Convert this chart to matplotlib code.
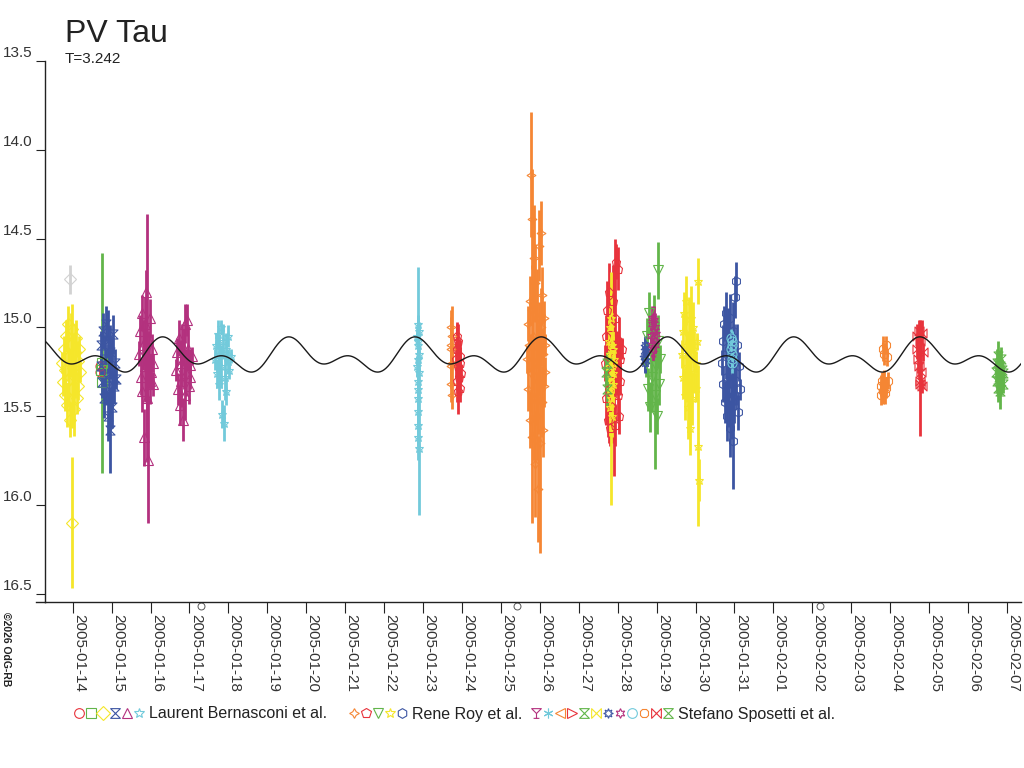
import datetime as dt

import matplotlib
matplotlib.use('Agg')
import matplotlib.pyplot as plt
import matplotlib.dates as mdates
from matplotlib.path import Path
from matplotlib.transforms import offset_copy
import numpy as np

plt.rcParams['font.family'] = ['Liberation Sans', 'DejaVu Sans']

EPOCH = dt.datetime(2005, 1, 14)

# (days since 2005-01-14 0h UT, magnitude, error)
lb_red = [(0.70, 15.22, 0.02), (0.71, 15.25, 0.02)]
lb_green = [(0.73, 15.24, 0.06), (0.74, 15.31, 0.05), (0.755, 15.20, 0.62)]
lb_yellow = [
    (-0.265, 15.20, 0.06), (-0.25, 15.31, 0.08), (-0.235, 15.12, 0.07), (-0.205, 15.38, 0.09),
    (-0.19, 15.24, 0.10), (-0.175, 15.05, 0.09), (-0.145, 15.44, 0.12), (-0.13, 15.17, 0.13),
    (-0.115, 14.98, 0.10), (-0.085, 15.29, 0.16), (-0.07, 15.52, 0.10), (-0.055, 15.10, 0.18),
    (-0.025, 15.35, 0.22), (-0.01, 15.01, 0.14), (0.005, 15.23, 0.20), (0.035, 15.46, 0.15),
    (0.05, 15.14, 0.16), (0.065, 15.28, 0.12), (0.095, 15.06, 0.10), (0.11, 15.40, 0.09),
    (0.125, 15.19, 0.11), (0.14, 15.33, 0.08), (0.17, 15.12, 0.07), (0.185, 15.25, 0.06),
    (-0.02, 16.10, 0.37)]
lb_rejected = [(-0.07, 14.73, 0.08)]
lb_blue = [
    (0.715, 15.22, 0.07), (0.73, 15.10, 0.08), (0.76, 15.31, 0.09), (0.775, 15.02, 0.10),
    (0.805, 15.40, 0.11), (0.82, 15.18, 0.13), (0.85, 14.98, 0.10), (0.865, 15.28, 0.16),
    (0.895, 15.50, 0.14), (0.91, 15.08, 0.18), (0.925, 15.35, 0.22), (0.955, 15.58, 0.24),
    (0.97, 15.14, 0.15), (1.00, 15.26, 0.20), (1.015, 15.45, 0.12), (1.045, 15.04, 0.11),
    (1.06, 15.33, 0.10), (1.09, 15.20, 0.08), (1.105, 15.29, 0.06)]
lb_magenta = [
    (1.71, 15.15, 0.07), (1.725, 15.02, 0.09), (1.755, 15.28, 0.10), (1.77, 14.92, 0.10),
    (1.785, 15.36, 0.12), (1.815, 15.10, 0.14), (1.83, 15.62, 0.16), (1.845, 14.98, 0.15),
    (1.86, 15.22, 0.20), (1.875, 14.80, 0.12), (1.905, 15.40, 0.22), (1.92, 15.06, 0.70),
    (1.935, 15.75, 0.35), (1.95, 15.18, 0.16), (1.98, 15.30, 0.13), (1.995, 14.95, 0.11),
    (2.01, 15.25, 0.10), (2.025, 15.12, 0.08), (2.055, 15.32, 0.07), (2.07, 15.20, 0.05),
    (2.665, 15.24, 0.06), (2.68, 15.14, 0.08), (2.71, 15.35, 0.09), (2.725, 15.06, 0.10),
    (2.755, 15.44, 0.11), (2.77, 15.20, 0.13), (2.785, 15.30, 0.15), (2.815, 15.10, 0.12),
    (2.83, 15.52, 0.12), (2.86, 15.18, 0.17), (2.875, 14.98, 0.11), (2.89, 15.38, 0.14),
    (2.92, 15.26, 0.13), (2.935, 14.96, 0.09), (2.965, 15.12, 0.12), (2.98, 15.33, 0.10),
    (3.01, 15.21, 0.09), (3.025, 15.28, 0.07), (3.055, 15.16, 0.05)]
lb_cyan = [
    (3.665, 15.18, 0.06), (3.68, 15.10, 0.07), (3.71, 15.26, 0.08), (3.725, 15.04, 0.08),
    (3.755, 15.32, 0.09), (3.77, 15.15, 0.11), (3.80, 15.00, 0.04), (3.815, 15.22, 0.12),
    (3.845, 15.49, 0.08), (3.86, 15.08, 0.10), (3.89, 15.54, 0.10), (3.905, 15.28, 0.13),
    (3.935, 15.12, 0.09), (3.95, 15.36, 0.08), (3.98, 15.19, 0.07), (3.995, 15.05, 0.06),
    (4.025, 15.24, 0.05), (4.055, 15.16, 0.04),
    (8.85, 15.05, 0.05), (8.85, 15.22, 0.06), (8.86, 15.40, 0.05), (8.86, 14.98, 0.05),
    (8.86, 15.30, 0.07), (8.87, 15.10, 0.44), (8.87, 15.55, 0.06), (8.87, 15.18, 0.05),
    (8.88, 15.62, 0.05), (8.88, 15.35, 0.40), (8.88, 15.08, 0.06), (8.88, 15.47, 0.06),
    (8.89, 15.25, 0.08), (8.89, 15.68, 0.38), (8.89, 15.15, 0.05), (8.90, 15.02, 0.05)]

rr_orange = [
    (9.71, 15.12, 0.08), (9.71, 15.22, 0.12), (9.72, 15.00, 0.10), (9.72, 15.32, 0.10),
    (9.73, 15.10, 0.16), (9.74, 15.05, 0.17), (9.74, 15.38, 0.08), (9.75, 15.20, 0.10),
    (11.675, 15.18, 0.08), (11.69, 14.98, 0.10), (11.705, 15.35, 0.12), (11.72, 15.10, 0.15),
    (11.735, 15.52, 0.16), (11.75, 14.85, 0.14), (11.765, 14.14, 0.35), (11.78, 15.26, 0.22),
    (11.795, 14.39, 0.28), (11.81, 15.62, 0.48), (11.81, 14.90, 0.25), (11.825, 15.05, 0.30),
    (11.84, 14.61, 0.30), (11.855, 15.40, 0.35), (11.87, 15.77, 0.30), (11.885, 14.75, 0.22),
    (11.90, 15.20, 0.35), (11.915, 15.50, 0.25), (11.93, 14.95, 0.28), (11.945, 15.91, 0.30),
    (11.96, 15.30, 0.30), (11.975, 14.54, 0.20), (11.99, 15.12, 0.26), (12.005, 15.65, 0.62),
    (12.02, 14.47, 0.18), (12.035, 15.00, 0.22), (12.05, 15.42, 0.20), (12.065, 14.82, 0.16),
    (12.08, 15.58, 0.15), (12.08, 15.15, 0.14), (12.095, 15.33, 0.12), (12.11, 14.95, 0.10),
    (12.125, 15.25, 0.08), (12.125, 15.10, 0.06)]
rr_red = [
    (9.85, 15.18, 0.10), (9.865, 15.05, 0.08), (9.865, 15.30, 0.12), (9.88, 15.12, 0.14),
    (9.895, 15.36, 0.13), (9.895, 15.22, 0.12), (9.91, 15.08, 0.10), (9.925, 15.28, 0.11),
    (9.94, 15.16, 0.09), (9.94, 15.34, 0.08), (9.955, 15.20, 0.07), (9.97, 15.26, 0.05),
    (13.68, 15.20, 0.10), (13.695, 15.05, 0.12), (13.71, 15.40, 0.15), (13.725, 14.90, 0.16),
    (13.74, 15.52, 0.10), (13.755, 15.15, 0.22), (13.77, 14.80, 0.16), (13.785, 15.35, 0.30),
    (13.815, 15.57, 0.10), (13.83, 15.00, 0.25), (13.845, 15.26, 0.28), (13.86, 15.45, 0.20),
    (13.875, 14.85, 0.20), (13.89, 15.10, 0.30), (13.905, 15.32, 0.52), (13.92, 14.95, 0.45),
    (13.935, 15.55, 0.12), (13.95, 14.63, 0.10), (13.98, 15.20, 0.18), (13.995, 14.67, 0.12),
    (14.01, 15.38, 0.15), (14.025, 15.08, 0.14), (14.04, 15.50, 0.10), (14.055, 15.18, 0.12),
    (14.07, 15.30, 0.08), (14.10, 15.12, 0.06)]
rr_green = [
    (14.715, 15.20, 0.08), (14.745, 15.05, 0.10), (14.775, 15.35, 0.12), (14.805, 14.92, 0.12),
    (14.835, 15.45, 0.14), (14.85, 15.12, 0.16), (14.88, 15.28, 0.20), (15.045, 14.68, 0.16),
    (14.925, 15.00, 0.18), (14.955, 15.38, 0.42), (14.985, 15.22, 0.22), (15.00, 15.50, 0.10),
    (15.03, 15.08, 0.15), (15.06, 15.32, 0.12), (15.09, 15.18, 0.08)]
rr_yellow = [
    (13.78, 15.22, 0.10), (13.78, 15.08, 0.12), (13.795, 15.35, 0.14), (13.795, 15.00, 0.12),
    (13.81, 15.45, 0.16), (13.81, 15.15, 0.20), (13.825, 15.28, 0.25), (13.825, 14.95, 0.26),
    (13.84, 15.40, 0.60), (13.855, 15.10, 0.18), (13.855, 15.50, 0.12), (13.87, 15.20, 0.15),
    (13.87, 15.32, 0.12), (13.885, 15.12, 0.10), (13.885, 15.26, 0.08), (13.90, 15.18, 0.06),
    (15.655, 15.15, 0.08), (15.67, 15.02, 0.10), (15.685, 15.28, 0.12), (15.715, 14.92, 0.12),
    (15.73, 15.38, 0.14), (15.745, 15.10, 0.16), (15.76, 14.85, 0.14), (15.79, 15.22, 0.20),
    (15.805, 15.45, 0.18), (15.82, 15.05, 0.22), (15.835, 15.32, 0.25), (15.865, 15.57, 0.15),
    (15.88, 14.95, 0.18), (15.895, 15.18, 0.24), (15.91, 15.40, 0.15), (15.94, 15.00, 0.14),
    (15.955, 15.25, 0.12), (15.97, 15.12, 0.10), (16.00, 15.34, 0.08), (16.015, 15.20, 0.06),
    (16.03, 15.08, 0.05), (16.06, 14.74, 0.13), (16.075, 15.67, 0.45), (16.09, 15.86, 0.12)]
rr_blue = [
    (16.685, 15.20, 0.07), (16.70, 15.08, 0.09), (16.715, 15.32, 0.10), (16.73, 14.98, 0.10),
    (16.745, 15.42, 0.12), (16.775, 15.15, 0.14), (16.79, 14.92, 0.12), (16.805, 15.28, 0.18),
    (16.82, 15.50, 0.14), (16.835, 15.05, 0.16), (16.85, 15.36, 0.20), (16.865, 15.12, 0.22),
    (16.88, 15.57, 0.16), (16.895, 14.95, 0.14), (16.925, 15.25, 0.24), (16.94, 15.45, 0.18),
    (16.955, 15.02, 0.16), (16.97, 15.64, 0.27), (16.985, 15.18, 0.20), (17.00, 15.38, 0.16),
    (17.015, 14.83, 0.12), (17.03, 14.74, 0.11), (17.045, 15.30, 0.14), (17.075, 15.10, 0.12),
    (17.09, 15.48, 0.10), (17.105, 15.22, 0.08), (17.135, 15.35, 0.06)]

ss_green_a = [(13.70, 15.25, 0.08), (13.715, 15.35, 0.10), (13.73, 15.20, 0.06)]
ss_blue = [(14.68, 15.16, 0.05), (14.69, 15.12, 0.06), (14.70, 15.20, 0.06),
           (14.70, 15.10, 0.05), (14.71, 15.18, 0.07), (14.72, 15.14, 0.06)]
ss_magenta = [
    (14.86, 15.05, 0.05), (14.875, 14.98, 0.06), (14.89, 15.10, 0.07), (14.89, 14.95, 0.07),
    (14.905, 15.12, 0.07), (14.92, 15.02, 0.08), (14.935, 14.96, 0.08), (14.95, 15.08, 0.09),
    (14.965, 15.00, 0.08), (14.965, 15.10, 0.06), (14.98, 15.04, 0.05)]
ss_cyan = [(16.92, 15.12, 0.05), (16.92, 15.06, 0.05), (16.93, 15.18, 0.06), (16.93, 15.10, 0.08),
           (16.93, 15.20, 0.06), (16.94, 15.08, 0.05), (16.94, 15.15, 0.04)]
ss_orange = [
    (20.76, 15.33, 0.06), (20.775, 15.38, 0.06), (20.79, 15.30, 0.05), (20.805, 15.36, 0.07),
    (20.82, 15.12, 0.07), (20.835, 15.32, 0.08), (20.85, 15.15, 0.06), (20.865, 15.37, 0.06),
    (20.88, 15.10, 0.05), (20.895, 15.34, 0.06), (20.91, 15.17, 0.05), (20.94, 15.30, 0.05)]
ss_red = [
    (21.685, 15.12, 0.06), (21.70, 15.05, 0.07), (21.715, 15.18, 0.08), (21.73, 15.02, 0.06),
    (21.745, 15.22, 0.07), (21.76, 15.32, 0.04), (21.76, 15.08, 0.12), (21.775, 15.30, 0.31),
    (21.79, 15.25, 0.06), (21.805, 15.03, 0.07), (21.82, 15.33, 0.04), (21.835, 15.14, 0.05)]
ss_green_b = [
    (23.72, 15.25, 0.06), (23.735, 15.30, 0.07), (23.75, 15.20, 0.08), (23.765, 15.34, 0.08),
    (23.78, 15.16, 0.08), (23.795, 15.28, 0.10), (23.81, 15.22, 0.09), (23.825, 15.36, 0.10),
    (23.84, 15.18, 0.07), (23.855, 15.30, 0.08), (23.87, 15.24, 0.06), (23.885, 15.32, 0.05),
    (23.90, 15.26, 0.05)]

# points fainter than the plotted range
offscale_t = [3.30, 11.41, 19.19]
offscale_mag = [16.57, 16.57, 16.57]

# two-harmonic fit, period in days
period = 3.242
fit_t0 = 2.268
fit_a0 = 15.166
fit_c1 = -0.0535
fit_s1 = -0.0234
fit_c2 = -0.0575

tick_days = list(range(0, 25))
y_ticks = [13.5, 14.0, 14.5, 15.0, 15.5, 16.0, 16.5]

RED = '#e8333c'
GREEN = '#62b54a'
YELLOW = '#f5e62a'
BLUE = '#3c55a2'
MAGENTA = '#b3317e'
CYAN = '#72cadb'
ORANGE = '#f58634'

hourglass = Path([(-1, 1), (1, 1), (-1, -1), (1, -1), (0, 0)], closed=True)
bowtie = Path([(-1, 1), (1, -1), (1, 1), (-1, -1), (0, 0)], closed=True)
goblet = Path([(-1, 1), (1, 1), (0, 0), (0, 0), (0, 0), (0, -1), (-0.6, -1), (0.6, -1)],
              [Path.MOVETO, Path.LINETO, Path.LINETO, Path.CLOSEPOLY,
               Path.MOVETO, Path.LINETO, Path.MOVETO, Path.LINETO])

series = [
    ('lb', RED, 'o', lb_red),
    ('lb', GREEN, 's', lb_green),
    ('lb', YELLOW, 'D', lb_yellow),
    ('lb', BLUE, hourglass, lb_blue),
    ('lb', MAGENTA, '^', lb_magenta),
    ('lb', CYAN, '*', lb_cyan),
    ('rr', ORANGE, (4, 1, 0), rr_orange),
    ('rr', RED, 'p', rr_red),
    ('rr', GREEN, 'v', rr_green),
    ('rr', YELLOW, '*', rr_yellow),
    ('rr', BLUE, 'h', rr_blue),
    ('ss', MAGENTA, goblet, []),
    ('ss', CYAN, (6, 2, 0), []),
    ('ss', ORANGE, '<', []),
    ('ss', RED, '>', []),
    ('ss', GREEN, hourglass, ss_green_a),
    ('ss', YELLOW, bowtie, []),
    ('ss', BLUE, (8, 1, 0), ss_blue),
    ('ss', MAGENTA, (6, 1, 0), ss_magenta),
    ('ss', CYAN, 'o', ss_cyan),
    ('ss', ORANGE, '8', ss_orange),
    ('ss', RED, bowtie, ss_red),
    ('ss', GREEN, hourglass, ss_green_b),
]
observers = [('lb', 'Laurent Bernasconi et al.', 79),
             ('rr', 'Rene Roy et al.', 354),
             ('ss', 'Stefano Sposetti et al.', 536)]

W, H = 1024, 768
fig = plt.figure(figsize=(W / 100, H / 100), dpi=100)
ax = fig.add_axes([45 / W, 1 - 601.5 / H, (1021 - 45) / W, (601.5 - 61) / H])
base = mdates.date2num(EPOCH)

def draw(pts, col, mk):
    t, m, e = zip(*pts)
    ax.errorbar(base + np.array(t), m, yerr=e, ls='none', marker=mk, ms=6.5,
                mfc='none', mec=col, mew=0.8, ecolor=col, elinewidth=2.0, capsize=0)

draw(lb_rejected, '#d2d2d2', 'D')
for obs, col, mk, pts in series:
    if pts:
        draw(pts, col, mk)

ax.plot(base + np.array(offscale_t), offscale_mag, ls='none', marker='o', ms=5,
        mfc='none', mec='#555555', mew=0.7, clip_on=False)

tt = np.linspace(-0.72, 24.4, 2000)
th = 2 * np.pi * (tt - fit_t0) / period
ax.plot(base + tt, fit_a0 + fit_c1 * np.cos(th) + fit_s1 * np.sin(th) + fit_c2 * np.cos(2 * th),
        color='#1a1a1a', lw=1.0, zorder=5)

ax.set_xlim(base - 0.7115, base + 24.36)
ax.set_ylim(16.545, 13.5)
for s in ['top', 'right']:
    ax.spines[s].set_visible(False)
for s in ['left', 'bottom']:
    ax.spines[s].set_color('#222222')
    ax.spines[s].set_linewidth(1.0)
ax.set_xticks([base + d for d in tick_days])
ax.set_yticks(y_ticks)
ax.tick_params(axis='x', direction='out', length=8, width=0.8, color='#222222', labelbottom=False)
ax.tick_params(axis='y', direction='out', length=6.5, width=0.8, color='#222222', labelleft=False)

xlab_tr = offset_copy(ax.get_xaxis_transform(), fig=fig, x=2.3, y=-12.5, units='dots')
for d in tick_days:
    ax.text(base + d, 0, (EPOCH + dt.timedelta(days=d)).strftime('%Y-%m-%d'), transform=xlab_tr,
            rotation=-90, rotation_mode='anchor', ha='left', va='baseline',
            fontsize=11, color='#333333')
ylab_tr = offset_copy(ax.get_yaxis_transform(), fig=fig, x=-12, y=4, units='dots')
for v in y_ticks:
    ax.text(0, v, f'{v:.1f}', transform=ylab_tr, ha='right', va='baseline',
            fontsize=11, color='#333333')

# overlay in pixel units for title, legend and frame extras
ov = fig.add_axes([0, 0, 1, 1])
ov.set_xlim(0, W)
ov.set_ylim(H, 0)
ov.axis('off')
ov.plot([36, 45], [601.5, 601.5], color='#222222', lw=1.0)
ov.text(65, 42, 'PV Tau', fontsize=23, va='baseline', color='#222222')
ov.text(65, 63, 'T=3.242', fontsize=11, va='baseline', color='#222222')
ov.text(3, 612, '\u00a92026 OdG-RB', fontsize=7.5, weight='bold', rotation=-90,
        rotation_mode='anchor', ha='left', va='baseline', color='#222222')

step = 12.0
for key, name, x0 in observers:
    marks = [(c, mk) for o, c, mk, _ in series if o == key]
    for i, (c, mk) in enumerate(marks):
        ov.plot([x0 + i * step], [712.5], ls='none', marker=mk, ms=7,
                mfc='none', mec=c, mew=0.8)
    ov.text(x0 + (len(marks) - 1) * step + 10, 718.5, name, fontsize=11.5,
            va='baseline', color='#222222')

fig.savefig('out.png', dpi=100)
